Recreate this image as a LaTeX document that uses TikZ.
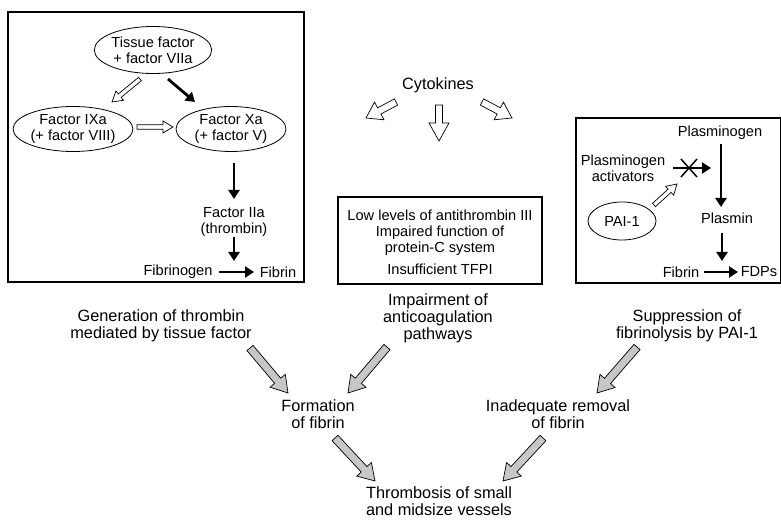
\documentclass[tikz,border=0pt]{standalone}
\usepackage{fontspec}
\setmainfont{Liberation Sans}
\usetikzlibrary{arrows.meta,calc,shapes.geometric}
\newcommand\fatarrow[6]{% style, from, to, shaft half width, head half width, head length
  \coordinate (fahead) at ($(#3)!#6!(#2)$);
  \draw[#1] ($(#2)!#4!90:(#3)$) -- ($(fahead)!#4!90:(#3)$) -- ($(fahead)!#5!90:(#3)$)
    -- (#3) -- ($(fahead)!#5!-90:(#3)$) -- ($(fahead)!#4!-90:(#3)$) -- ($(#2)!#4!-90:(#3)$) -- cycle;
}
\begin{document}
\begin{tikzpicture}[x=1pt,y=-1pt,
  txt/.style={font=\fontsize{14.6}{16}\selectfont, align=center, inner sep=0pt},
  big/.style={font=\fontsize{16.3}{17}\selectfont, align=center, inner sep=0pt},
  ell/.style={ellipse, draw, line width=0.8pt, inner sep=0pt},
  frame/.style={draw, line width=1.1pt},
  blk/.style={line width=2.8pt, -{Triangle[length=9pt,width=11pt]}},
  openarr/.style={draw, fill=white, line width=0.7pt, line join=miter},
  grayarr/.style={draw, fill=black!22, line width=0.7pt, line join=miter}]
\useasboundingbox (0,0) rectangle (781,521);
% frames
\draw[frame] (8,12) rectangle (304,282);
\draw[frame] (338,197) rectangle (542,284);
\draw[frame] (576,118) rectangle (781,283);
% left box
\node[ell, txt, minimum width=112pt, minimum height=47pt] (tf) at (153,50) {Tissue factor\\+ factor VIIa};
\node[ell, txt, minimum width=114pt, minimum height=45pt] (ixa) at (73,129) {Factor IXa\\(+ factor VIII)};
\node[ell, txt, minimum width=110pt, minimum height=45pt] (xa) at (231,129) {Factor Xa\\(+ factor V)};
\node[txt] (iia) at (234,222) {Factor IIa\\(thrombin)};
\node[txt] (fibrinogen) at (178,272) {Fibrinogen};
\node[txt] (fibrin) at (278,272) {Fibrin};
\coordinate (a1s) at (140,79); \coordinate (a1e) at (112,102);
\coordinate (a2s) at (168,79); \coordinate (a2e) at (195,102);
\coordinate (a3s) at (137,127); \coordinate (a3e) at (173,127);
\fatarrow{openarr}{a1s}{a1e}{2.2pt}{6pt}{10pt}
\fatarrow{openarr}{a3s}{a3e}{2.2pt}{6pt}{10pt}
\draw[blk] (a2s) -- (a2e);
\coordinate (b1s) at (234,163); \coordinate (b1e) at (234,199);
\coordinate (b2s) at (234,237); \coordinate (b2e) at (234,261);
\coordinate (b3s) at (219,272); \coordinate (b3e) at (254,272);
\draw[blk] (b1s) -- (b1e);
\draw[blk] (b2s) -- (b2e);
\draw[blk] (b3s) -- (b3e);
% cytokines
\node[big] (cyt) at (438,85) {Cytokines};
\coordinate (c1s) at (396,102); \coordinate (c1e) at (366,118);
\coordinate (c2s) at (439,105); \coordinate (c2e) at (439,141);
\coordinate (c3s) at (482,102); \coordinate (c3e) at (512,118);
\fatarrow{openarr}{c1s}{c1e}{3.5pt}{10pt}{15pt}
\fatarrow{openarr}{c2s}{c2e}{3.5pt}{10pt}{18pt}
\fatarrow{openarr}{c3s}{c3e}{3.5pt}{10pt}{15pt}
% middle box
\node[txt] (m1) at (440,215) {Low levels of antithrombin III};
\node[txt] (m2) at (440,241) {Impaired function of\\protein-C system};
\node[txt] (m3) at (440,269) {Insufficient TFPI};
% right box
\node[txt] (plg) at (720,133) {Plasminogen};
\node[txt] (pla) at (623,168) {Plasminogen\\activators};
\node[ell, txt, minimum width=68pt, minimum height=38pt] (pai) at (622,221) {PAI-1};
\node[txt] (plm) at (727,218) {Plasmin};
\node[txt] (fib2) at (681,272) {Fibrin};
\node[txt] (fdp) at (759,272) {FDPs};
\coordinate (p1s) at (673,168); \coordinate (p1e) at (711,168);
\draw[blk] (p1s) -- (p1e);
\coordinate (x0) at (689,168);
\draw[line width=1.5pt] ($(x0)+(-8,-9)$) -- ($(x0)+(8,9)$) ($(x0)+(-8,9)$) -- ($(x0)+(8,-9)$);
\coordinate (p2s) at (654,205); \coordinate (p2e) at (677,184);
\fatarrow{openarr}{p2s}{p2e}{2.2pt}{6pt}{10pt}
\coordinate (p3s) at (721,144); \coordinate (p3e) at (721,207);
\coordinate (p4s) at (722,233); \coordinate (p4e) at (722,261);
\coordinate (p5s) at (704,272); \coordinate (p5e) at (738,272);
\draw[blk] (p3s) -- (p3e);
\draw[blk] (p4s) -- (p4e);
\draw[blk] (p5s) -- (p5e);
% bottom
\node[big] (gen) at (161,326) {Generation of thrombin\\mediated by tissue factor};
\node[big] (imp) at (438,318) {Impairment of\\anticoagulation\\pathways};
\node[big] (sup) at (687,326) {Suppression of\\fibrinolysis by PAI-1};
\node[big] (form) at (318,414) {Formation\\of fibrin};
\node[big] (inad) at (558,414) {Inadequate removal\\of fibrin};
\node[big] (thr) at (439,501) {Thrombosis of small\\and midsize vessels};
\coordinate (g1s) at (250,348); \coordinate (g1e) at (288,393);
\coordinate (g2s) at (387,347); \coordinate (g2e) at (348,393);
\coordinate (g3s) at (637,347); \coordinate (g3e) at (597,393);
\coordinate (g4s) at (335,438); \coordinate (g4e) at (375,481);
\coordinate (g5s) at (543,438); \coordinate (g5e) at (503,481);
\fatarrow{grayarr}{g1s}{g1e}{4pt}{10pt}{16pt}
\fatarrow{grayarr}{g2s}{g2e}{4pt}{10pt}{16pt}
\fatarrow{grayarr}{g3s}{g3e}{4pt}{10pt}{16pt}
\fatarrow{grayarr}{g4s}{g4e}{4pt}{10pt}{16pt}
\fatarrow{grayarr}{g5s}{g5e}{4pt}{10pt}{16pt}
\end{tikzpicture}
\end{document}
